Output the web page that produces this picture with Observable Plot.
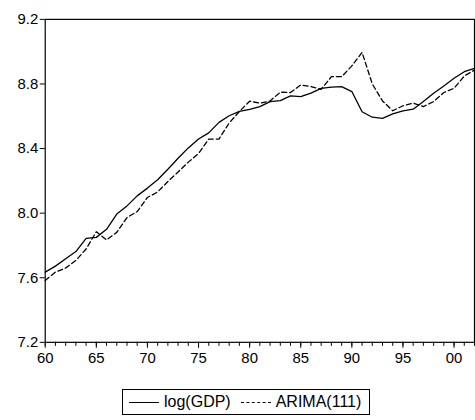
<!DOCTYPE html>
<html>
<head>
<meta charset="utf-8">
<script src="https://cdn.jsdelivr.net/npm/d3@7"></script>
<script src="https://cdn.jsdelivr.net/npm/@observablehq/plot@0.6"></script>
<style>
  html, body { margin: 0; padding: 0; background: #fff; overflow: hidden; }
  #wrap { position: relative; width: 475px; height: 420px; overflow: hidden; font-family: Arial, "Liberation Sans", sans-serif; }
  #chart { position: absolute; left: 0; top: 0; }
  #legend { position: absolute; left: 122px; top: 389px; height: 26px; border: 1px solid #000; box-sizing: border-box;
            display: flex; align-items: center; padding: 0 6px; font-size: 16px; color: #000; white-space: nowrap; }
  #legend .item { display: flex; align-items: center; margin-right: 10px; }
  #legend .item:last-child { margin-right: 2px; }
  #legend .sample { display: inline-block; width: 30px; height: 0; border-top: 1px solid #000; margin-right: 5px; }
  #legend .sample.dash { border-top-style: dashed; }
</style>
</head>
<body>
<div id="wrap">
  <div id="chart"></div>
  <div id="legend"></div>
</div>
<script>
const years = d3.range(1960, 2003);
const logGDP = [7.635, 7.672, 7.717, 7.762, 7.844, 7.850, 7.900, 7.994, 8.045, 8.107,
                8.155, 8.207, 8.272, 8.340, 8.404, 8.459, 8.497, 8.562, 8.603, 8.630,
                8.642, 8.660, 8.691, 8.697, 8.726, 8.722, 8.743, 8.773, 8.780, 8.784,
                8.753, 8.628, 8.594, 8.587, 8.615, 8.634, 8.644, 8.691, 8.743, 8.788,
                8.835, 8.876, 8.897];
const arima = [7.583, 7.635, 7.660, 7.707, 7.778, 7.885, 7.834, 7.881, 7.973, 8.010,
               8.097, 8.131, 8.196, 8.255, 8.316, 8.369, 8.459, 8.459, 8.558, 8.630,
               8.693, 8.681, 8.695, 8.749, 8.747, 8.794, 8.784, 8.767, 8.845, 8.845,
               8.912, 8.996, 8.800, 8.695, 8.634, 8.665, 8.681, 8.660, 8.691, 8.747,
               8.773, 8.849, 8.886];
const seriesNames = ["log(GDP)", "ARIMA(111)"];
const yTicks = [7.2, 7.6, 8.0, 8.4, 8.8, 9.2];
const xMajorTicks = d3.range(1960, 2002, 5);
const xMinorTicks = d3.range(1960, 2003, 1);

const rows1 = years.map((yr, i) => ({year: yr, value: logGDP[i]}));
const rows2 = years.map((yr, i) => ({year: yr, value: arima[i]}));

const chart = Plot.plot({
  width: 478, height: 372, marginTop: 19, marginBottom: 28, marginLeft: 45, marginRight: 1,
  style: {fontFamily: "Arial, 'Liberation Sans', sans-serif", fontSize: "15px", color: "#000", background: "#fff"},
  x: {domain: [years[0], years[years.length - 1]]},
  y: {domain: [yTicks[0], yTicks[yTicks.length - 1]]},
  marks: [
    Plot.frame({stroke: "#000", strokeWidth: 1.2}),
    Plot.axisY({ticks: yTicks, tickFormat: d => d.toFixed(1), tickSize: 5, tickPadding: 2, label: null}),
    Plot.axisX({ticks: xMinorTicks, tickFormat: () => "", tickSize: 4, label: null}),
    Plot.axisX({ticks: xMajorTicks, tickFormat: d => String(d % 100).padStart(2, "0"), tickSize: 6, tickPadding: 4, label: null}),
    Plot.line(rows1, {x: "year", y: "value", stroke: "#000", strokeWidth: 1.3}),
    Plot.line(rows2, {x: "year", y: "value", stroke: "#000", strokeWidth: 1.3, strokeDasharray: "5,3"})
  ]
});
document.getElementById("chart").appendChild(chart);

const legend = document.getElementById("legend");
seriesNames.forEach((name, i) => {
  const item = document.createElement("div");
  item.className = "item";
  const sample = document.createElement("span");
  sample.className = i === 0 ? "sample" : "sample dash";
  item.appendChild(sample);
  const span = document.createElement("span");
  span.textContent = name;
  item.appendChild(span);
  legend.appendChild(item);
});
</script>
</body>
</html>
